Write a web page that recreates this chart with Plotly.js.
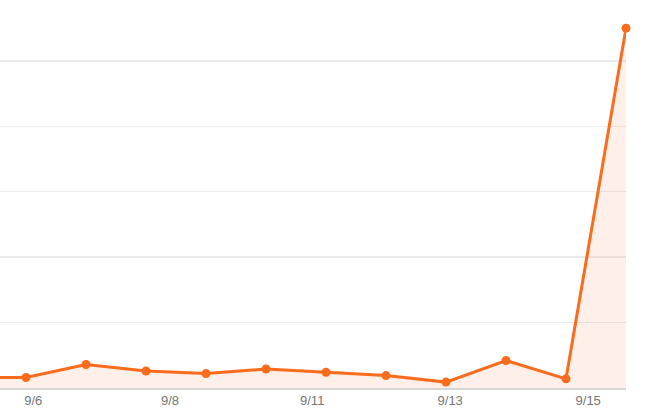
<!DOCTYPE html>
<html>
<head>
<meta charset="utf-8">
<script src="https://cdn.plot.ly/plotly-3.0.1.min.js"></script>
<style>
  html, body { margin: 0; padding: 0; background: #fff; }
  #chart { width: 650px; height: 419px; }
</style>
</head>
<body>
<div id="chart"></div>
<script>
// daily values, 9/5 .. 9/16
const days = ["9/5", "9/6", "9/7", "9/8", "9/9", "9/10", "9/11", "9/12", "9/13", "9/14", "9/15", "9/16"];
const counts = [16, 16, 36, 26, 22, 29, 24, 19, 9, 42, 14, 550];

// axis labels sit a little off the day points in the original
const tickPos = [1.12, 3.4, 5.77, 8.07, 10.37];
const tickText = ["9/6", "9/8", "9/11", "9/13", "9/15"];

const orange = "#fa6b1c";

const trace = {
  x: days.map((d, i) => i),
  y: counts,
  type: "scatter",
  mode: "lines+markers",
  fill: "tozeroy",
  fillcolor: "rgba(250,107,28,0.1)",
  line: { color: orange, width: 3 },
  marker: { color: orange, size: 9 },
  cliponaxis: false,
  hoverinfo: "skip",
};

Plotly.newPlot("chart", [trace], {
  width: 650,
  height: 419,
  margin: { l: 0, r: 24, t: 0, b: 30.5 },
  paper_bgcolor: "#fff",
  plot_bgcolor: "#fff",
  showlegend: false,
  font: { family: "Liberation Sans, Arial, sans-serif", size: 13, color: "#757575" },
  xaxis: {
    range: [0.567, 11],
    tickmode: "array",
    tickvals: tickPos,
    ticktext: tickText,
    showgrid: false,
    zeroline: false,
    showline: true,
    linecolor: "#d6d6d6",
    linewidth: 1.5,
    ticks: "",
    ticklen: 0,
  },
  yaxis: {
    range: [0, 593],
    dtick: 100,
    showticklabels: false,
    gridcolor: "#ebebeb",
    gridwidth: 1.5,
    zeroline: false,
    fixedrange: true,
  },
}, { displayModeBar: false, staticPlot: true });
</script>
</body>
</html>
